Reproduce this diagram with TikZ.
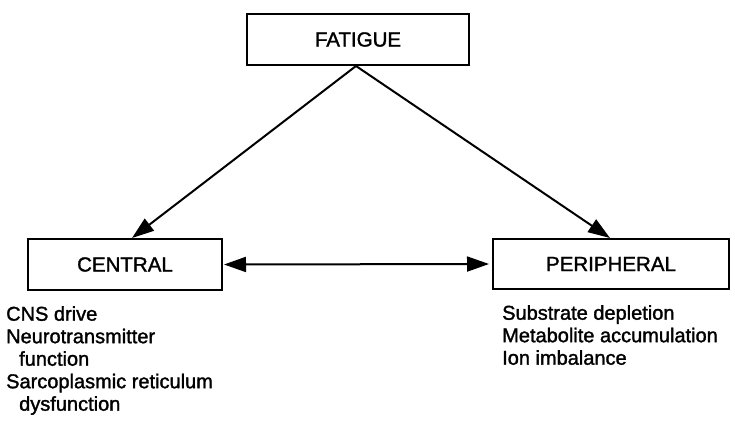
\documentclass[tikz,border=0pt]{standalone}
\usepackage{fontspec}
\setmainfont{Liberation Sans}
\newfontfamily\labelfont[FakeBold=1.5]{Liberation Sans}
\usepackage{tikz}
\usetikzlibrary{arrows.meta,positioning}
\def\levelnode{\node[draw=black,line width=2pt,rectangle,inner sep=0pt,font=\labelfont\fontsize{20.5}{22.5}\selectfont]}
\def\listnode{\node[inner sep=0pt,align=left,anchor=north west,font=\labelfont\fontsize{20}{22.5}\selectfont]}
\tikzset{tip/.style={line width=2pt,-{Triangle[length=22pt,width=15pt]}},
  twotip/.style={line width=2pt,{Triangle[length=22pt,width=15pt]}-{Triangle[length=22pt,width=15pt]}}}
\begin{document}
\begin{tikzpicture}[x=1pt,y=-1pt]
\useasboundingbox (0,0) rectangle (735,426);
\levelnode[minimum width=222pt,minimum height=51pt] (fatigue) at (358,39.5) {FATIGUE};
\levelnode[minimum width=194pt,minimum height=51pt] (central) at (125,264.5) {CENTRAL};
\levelnode[minimum width=236pt,minimum height=50pt] (peripheral) at (611,264) {PERIPHERAL};
\listnode (centrallist) at ([shift={(-21pt,-15pt)}]central.south west)
  {CNS drive\\Neurotransmitter\\\hspace*{13pt}function\\Sarcoplasmic reticulum\\\hspace*{13pt}dysfunction};
\listnode (periphlist) at ([shift={(10pt,-15pt)}]peripheral.south west)
  {Substrate depletion\\Metabolite accumulation\\Ion imbalance};
\draw[tip] ([xshift=-2pt]fatigue.south) to ([xshift=7pt]central.north);
\draw[tip] ([xshift=-2pt]fatigue.south) to ([xshift=-1pt]peripheral.north);
\draw[twotip] ([xshift=1pt]central.east) to ([xshift=-3pt]peripheral.west);
\end{tikzpicture}
\end{document}
